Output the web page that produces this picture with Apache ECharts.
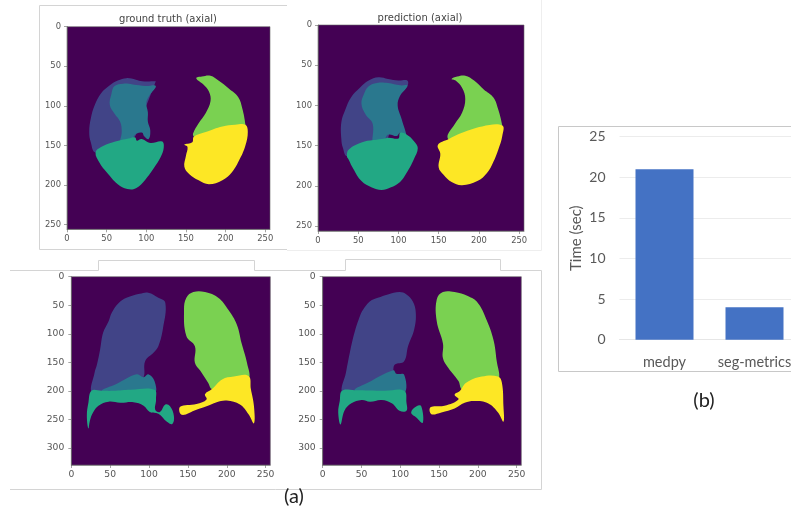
<!DOCTYPE html>
<html><head><meta charset="utf-8">
<style>html,body{margin:0;padding:0;background:#fff}#c{width:791px;height:510px}</style>
<script src="https://cdn.jsdelivr.net/npm/echarts@6/dist/echarts.min.js"></script>
</head><body><div id="c"></div>
<script>
// Bar chart data
const barCategories = ['medpy', 'seg-metrics'];
const barValues = [21, 4];
const barTicks = [0, 5, 10, 15, 20, 25];
// Image panel tick labels
const xTicks = [0, 50, 100, 150, 200, 250];
const axialYTicks = [0, 50, 100, 150, 200, 250];
const coronalYTicks = [0, 50, 100, 150, 200, 250, 300];
const axialTitles = ['ground truth (axial)', 'prediction (axial)'];

// Region outlines in image (pixel index) coordinates
const gtAxialBlue = [[112,69],[95,69],[87,67],[75,65],[64,68],[54,74],[43,84],[35,99],[30,116],[28,133],[30,146],[36,159],[60,152],[80,148],[100,100],[112,69]];
const gtAxialTeal = [[112,75],[99,75],[83,73],[71,72],[60,75],[56,85],[54,99],[60,110],[67,120],[69,133],[67,150],[80,148],[84,139],[88,135],[95,134],[97,138],[103,142],[105,131],[102,120],[102,108],[100,96],[104,87]];
const gtAxialGreen = [[36,159],[43,152],[58,146],[79,141],[86,140],[88,144],[94,142],[102,146],[106,147],[120,145],[122,153],[118,165],[110,178],[99,193],[87,204],[76,205],[64,199],[50,184],[41,172]];
const gtAxialLime = [[163,65],[170,63],[181,62],[191,68],[204,78],[216,89],[221,103],[225,124],[225,135],[204,135],[183,140],[166,145],[160,139],[159,135],[166,122],[175,109],[181,94],[179,82],[172,73]];
const gtAxialYellow = [[225,124],[228,133],[225,150],[218,167],[208,184],[196,194],[179,199],[166,194],[154,186],[148,177],[150,163],[152,152],[148,149],[158,146],[160,139],[175,133],[196,126],[212,124]];

const prAxialBlue = [[111,69],[100,69],[87,67],[75,65],[63,69],[52,78],[41,90],[34,105],[29,121],[29,142],[31,153],[36,163],[54,150],[83,148],[96,92],[111,76]];
const prAxialTeal = [[111,75],[102,75],[87,72],[73,72],[63,76],[57,86],[54,98],[59,111],[68,123],[69,150],[83,148],[84,140],[88,136],[98,138],[102,134],[110,140],[104,117],[99,100],[102,88],[110,78]];
const prAxialGreen = [[36,163],[38,155],[54,146],[69,143],[83,141],[88,140],[100,141],[102,134],[110,136],[119,144],[124,153],[119,167],[110,184],[102,195],[90,202],[79,205],[67,202],[54,194],[44,179],[38,167]];
const prAxialLime = [[166,67],[173,64],[183,63],[194,69],[206,80],[218,90],[224,105],[229,125],[229,130],[208,135],[187,141],[175,146],[161,140],[170,123],[179,109],[183,92],[179,78],[171,69]];
const prAxialYellow = [[229,125],[229,138],[224,155],[218,170],[210,184],[198,194],[179,199],[166,195],[156,186],[150,177],[152,160],[149,149],[162,142],[179,134],[204,126]];

const gtCoronalBlue = [[99,28],[88,30],[71,37],[61,46],[52,63],[48,78],[41,98],[37,128],[33,154],[30,168],[26,203],[41,203],[60,198],[84,180],[93,176],[95,148],[106,133],[112,122],[118,90],[121,46],[112,37]];
const gtCoronalTeal = [[39,200],[58,188],[84,171],[93,176],[99,171],[107,183],[107,205],[76,205],[54,205]];
const gtCoronalGreen = [[26,200],[39,200],[54,200],[76,198],[107,198],[109,215],[108,233],[114,237],[121,224],[127,227],[132,244],[130,258],[123,254],[112,240],[101,237],[93,226],[80,220],[63,221],[48,219],[35,226],[28,238],[24,252],[22,266],[20,244],[22,221]];
const gtCoronalLime = [[148,37],[157,27],[172,27],[189,37],[202,58],[213,84],[219,116],[226,151],[228,180],[209,182],[191,190],[181,197],[176,186],[166,165],[159,151],[159,122],[148,104],[145,58]];
const gtCoronalYellow = [[228,174],[231,197],[235,227],[235,257],[228,241],[217,224],[200,217],[187,220],[174,227],[161,233],[142,242],[140,228],[161,223],[174,215],[172,206],[181,197],[194,180],[209,175]];

const prCoronalBlue = [[99,27],[84,31],[71,37],[61,43],[52,58],[48,69],[41,98],[35,133],[30,168],[25,203],[41,203],[60,198],[91,175],[91,164],[93,154],[105,148],[110,122],[118,92],[120,63],[116,43],[108,31]];
const prCoronalTeal = [[41,199],[58,186],[91,164],[95,170],[105,172],[105,205],[80,205],[58,205]];
const prCoronalGreen = [[25,200],[41,199],[80,200],[105,200],[108,221],[108,235],[99,235],[89,222],[76,216],[61,219],[50,216],[37,222],[28,235],[23,259],[20,238],[22,218]];
const prCoronalIsland = [[121,227],[127,227],[129,256],[121,247],[114,238]];
const prCoronalLime = [[147,40],[155,27],[170,27],[187,34],[200,46],[211,75],[220,110],[224,145],[226,182],[205,182],[185,192],[179,197],[175,183],[162,160],[155,143],[155,117],[147,78]];
const prCoronalYellow = [[226,175],[231,186],[233,227],[233,254],[226,238],[213,222],[196,218],[183,221],[170,231],[153,238],[140,241],[139,229],[157,226],[175,215],[170,207],[177,200],[185,186],[205,175]];

const VIRIDIS = {bg:'#440154', blue:'#414487', teal:'#2a788e', green:'#22a884', lime:'#7ad151', yellow:'#fde725'};
const TXT = '#555555', AX = '#666666';

const panels = [
  {box:{left:67,top:26.7,width:203,height:202.6}, yMax:256, yTicks:axialYTicks, fs:8.4, xm:6, ym:6, regions:[
    [gtAxialBlue,'blue'],[gtAxialTeal,'teal'],[gtAxialGreen,'green'],[gtAxialLime,'lime'],[gtAxialYellow,'yellow']]},
  {box:{left:318,top:25,width:206,height:206}, yMax:256, yTicks:axialYTicks, fs:8.4, xm:6, ym:6, regions:[
    [prAxialBlue,'blue'],[prAxialTeal,'teal'],[prAxialGreen,'green'],[prAxialLime,'lime'],[prAxialYellow,'yellow']]},
  {box:{left:71.3,top:276.7,width:199,height:188.3}, yMax:330, yTicks:coronalYTicks, fs:9.2, xm:5, ym:7, regions:[
    [gtCoronalBlue,'blue'],[gtCoronalTeal,'teal'],[gtCoronalGreen,'green'],[gtCoronalLime,'lime'],[gtCoronalYellow,'yellow']]},
  {box:{left:322.7,top:276.7,width:198.6,height:188.3}, yMax:330, yTicks:coronalYTicks, fs:9.2, xm:5, ym:7, regions:[
    [prCoronalBlue,'blue'],[prCoronalTeal,'teal'],[prCoronalGreen,'green'],[prCoronalIsland,'green'],[prCoronalLime,'lime'],[prCoronalYellow,'yellow']]}
];

const grid = [], xAxis = [], yAxis = [], series = [];
panels.forEach((p, i) => {
  grid.push({...p.box, show:true, backgroundColor:VIRIDIS.bg, borderColor:AX, borderWidth:0.6, containLabel:false, outerBoundsMode:'none'});
  const labelStyle = {color:TXT, fontFamily:'DejaVu Sans', fontSize:p.fs};
  xAxis.push({gridIndex:i, type:'value', min:0, max:256, splitLine:{show:false},
    axisLine:{onZero:false, lineStyle:{color:AX, width:0.6}},
    axisTick:{length:3, lineStyle:{color:AX, width:0.6}, customValues:xTicks},
    axisLabel:{...labelStyle, margin:p.xm, customValues:xTicks}});
  yAxis.push({gridIndex:i, type:'value', inverse:true, min:0, max:p.yMax, splitLine:{show:false},
    axisLine:{onZero:false, lineStyle:{color:AX, width:0.6}},
    axisTick:{length:3, lineStyle:{color:AX, width:0.6}, customValues:p.yTicks},
    axisLabel:{...labelStyle, margin:p.ym, customValues:p.yTicks}});
  p.regions.forEach(([pts, col]) => {
    series.push({type:'custom', xAxisIndex:i, yAxisIndex:i, data:pts, encode:{x:0,y:1}, silent:true, animation:false,
      clip:true,
      renderItem:(params, api) => params.dataIndex === 0
        ? {type:'polygon', shape:{points:pts.map(q => api.coord(q)), smooth:0.4}, style:{fill:VIRIDIS[col]}}
        : null});
  });
});

// Bar chart grid (its right end runs off the page, as in the reference)
const bi = panels.length;
grid.push({left:619.5, width:180, top:136.7, height:203, outerBoundsMode:'none'});
const barFont = {color:'#595959', fontFamily:'Lato', fontSize:14};
xAxis.push({gridIndex:bi, type:'category', data:barCategories,
  axisLine:{lineStyle:{color:'#e6e6e6', width:1}}, axisTick:{show:false},
  axisLabel:{...barFont, fontSize:14.5, margin:15, interval:0}});
yAxis.push({gridIndex:bi, type:'value', min:0, max:25, interval:5,
  name:'Time (sec)', nameLocation:'middle', nameGap:36,
  nameTextStyle:{...barFont, fontSize:15},
  axisLine:{show:false}, axisTick:{show:false},
  splitLine:{lineStyle:{color:'#ececec', width:1}},
  axisLabel:{...barFont, margin:14, customValues:barTicks}});
series.push({type:'bar', xAxisIndex:bi, yAxisIndex:bi, data:barValues, barWidth:58, silent:true, animation:false,
  itemStyle:{color:'#4472c4'}});

const frame = (points, color) => ({type:'polyline', silent:true, z:-1, shape:{points},
  style:{fill:null, stroke:color || '#d4d4d4', lineWidth:1}});
const titleStyle = {color:'#444', fontFamily:'DejaVu Sans', fontSize:10, fontWeight:'normal'};
const capStyle = {color:'#222', fontFamily:'Lato', fontSize:20, fontWeight:'normal'};

const chart = echarts.init(document.getElementById('c'), null, {renderer:'canvas'});
chart.setOption({
  animation:false,
  backgroundColor:'#fff',
  title:[
    {text:axialTitles[0], left:168, top:14, padding:0, textAlign:'center', textStyle:titleStyle},
    {text:axialTitles[1], left:420, top:13, padding:0, textAlign:'center', textStyle:titleStyle},
    {text:'(a)', left:294, top:487, padding:0, textAlign:'center', textStyle:capStyle},
    {text:'(b)', left:704, top:391, padding:0, textAlign:'center', textStyle:capStyle}
  ],
  grid, xAxis, yAxis, series,
  graphic:[
    frame([[287,5.5],[39.5,5.5],[39.5,249.5],[287,249.5]]),
    frame([[287,250.5],[541.5,250.5],[541.5,0]], '#eeeeee'),
    frame([[10,270.5],[98.5,270.5],[98.5,260.5],[254.5,260.5],[254.5,270.5],[345.5,270.5],[345.5,259.5],[500.5,259.5],[500.5,270.5],[541.5,270.5],[541.5,489.5],[10,489.5]], '#d4d4d4'),
    frame([[791,126.5],[558.5,126.5],[558.5,371.5],[791,371.5]], '#c8c8c8')
  ]
});
</script></body></html>
